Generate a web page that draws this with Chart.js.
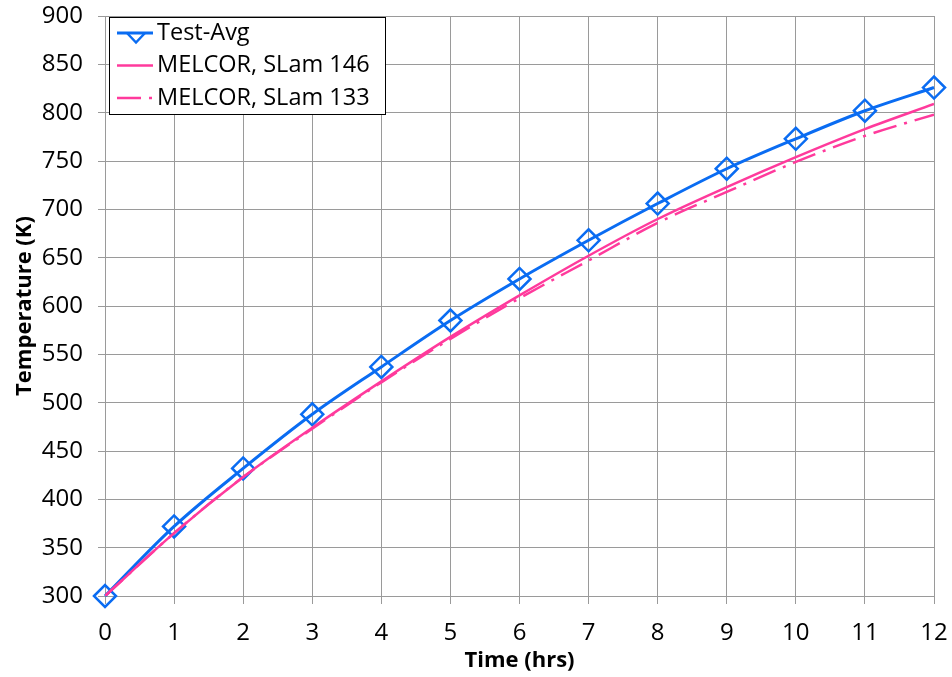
<!DOCTYPE html>
<html>
<head>
<meta charset="utf-8">
<title>Temperature vs time</title>
<script src="https://cdn.jsdelivr.net/npm/chart.js@4.4.1/dist/chart.umd.min.js"></script>
<style>
  html, body { margin: 0; padding: 0; background: #ffffff; }
  #wrap { position: relative; width: 952px; height: 677px; }
</style>
</head>
<body>
<div id="wrap"><canvas id="chart"></canvas></div>
<script>
// hourly readings, temperatures in K
const hours = [0, 1, 2, 3, 4, 5, 6, 7, 8, 9, 10, 11, 12];
const testAvg = [300, 372, 432, 488, 537, 585, 628, 668, 706, 742, 773, 802, 826];
const slam146 = [300, 365, 423, 474, 522, 568, 611, 652, 690, 723, 754, 783, 809];
const slam133 = [300, 365, 423, 473, 521, 566, 608, 647, 686, 718, 749, 776, 798];

const seriesNames = ["Test-Avg", "MELCOR, SLam 146", "MELCOR, SLam 133"];
const xTitle = "Time (hrs)";
const yTitle = "Temperature (K)";
const yMin = 300, yMax = 900, yStep = 50;
const xMin = 0, xMax = 12, xStep = 1;

const BLUE = "#0a6cf2";
const PINK = "#ff3a9c";
const GRID = "#9a9a9a";
const FONT = "'Open Sans', 'Noto Sans', sans-serif";

const toPoints = (ys) => hours.map((h, i) => ({ x: h, y: ys[i] }));

// keep tick-label overflow from pushing the plot area around
const noLabelPadding = (scale) => {
  scale.paddingTop = 0;
  scale.paddingBottom = 0;
  scale.paddingLeft = 0;
  scale.paddingRight = 0;
};

// legend box sitting inside the top-left corner of the plot
const boxLegend = {
  id: "boxLegend",
  afterDatasetsDraw(chart) {
    const ctx = chart.ctx;
    const { left, top } = chart.chartArea;
    const x0 = left + 4, y0 = top + 1, w = 276, h = 97;
    ctx.save();
    ctx.fillStyle = "#ffffff";
    ctx.fillRect(x0, y0, w, h);
    ctx.strokeStyle = "#000000";
    ctx.lineWidth = 1;
    ctx.strokeRect(Math.round(x0) + 0.5, Math.round(y0) + 0.5, w, h);

    chart.data.datasets.forEach((ds, i) => {
      const cy = y0 + 16 + i * 32.5;
      ctx.strokeStyle = ds.borderColor;
      ctx.lineWidth = ds.borderWidth;
      ctx.setLineDash(ds.borderDash || []);
      ctx.beginPath();
      ctx.moveTo(x0 + 8, cy);
      ctx.lineTo(x0 + 44, cy);
      ctx.stroke();
      ctx.setLineDash([]);
      if (ds.pointStyle === "rectRot") {
        ctx.lineWidth = ds.pointBorderWidth;
        ctx.beginPath();
        ctx.moveTo(x0 + 18, cy);
        ctx.lineTo(x0 + 27, cy + 9.5);
        ctx.lineTo(x0 + 36, cy);
        ctx.stroke();
      }
      ctx.fillStyle = "#000000";
      ctx.font = "23.5px " + FONT;
      ctx.textBaseline = "middle";
      ctx.textAlign = "left";
      ctx.fillText(ds.label, x0 + 48, cy);
    });
    ctx.restore();
  }
};

new Chart(document.getElementById("chart"), {
  type: "line",
  data: {
    datasets: [
      {
        label: seriesNames[0],
        data: toPoints(testAvg),
        borderColor: BLUE,
        borderWidth: 3,
        pointStyle: "rectRot",
        pointRadius: 11,
        pointBorderWidth: 2.5,
        pointBorderColor: BLUE,
        pointBackgroundColor: "rgba(0,0,0,0)",
        cubicInterpolationMode: "monotone",
        clip: false,
        order: 3
      },
      {
        label: seriesNames[1],
        data: toPoints(slam146),
        borderColor: PINK,
        borderWidth: 2.5,
        pointRadius: 0,
        cubicInterpolationMode: "monotone",
        order: 2
      },
      {
        label: seriesNames[2],
        data: toPoints(slam133),
        borderColor: PINK,
        borderWidth: 2.5,
        borderDash: [24, 8, 3, 8],
        pointRadius: 0,
        cubicInterpolationMode: "monotone",
        order: 1
      }
    ]
  },
  options: {
    responsive: true,
    maintainAspectRatio: false,
    animation: false,
    events: [],
    layout: { padding: { left: 0, top: 16, right: 18, bottom: 0 } },
    plugins: {
      legend: { display: false },
      tooltip: { enabled: false }
    },
    scales: {
      x: {
        type: "linear",
        min: xMin,
        max: xMax,
        afterFit: (scale) => { scale.height = 81; noLabelPadding(scale); },
        grid: { color: GRID, lineWidth: 1, tickLength: 8 },
        border: { color: GRID, width: 1 },
        ticks: {
          stepSize: xStep,
          color: "#000000",
          padding: 15,
          maxRotation: 0,
          font: { family: FONT, size: 24 }
        },
        title: {
          display: true,
          text: xTitle,
          color: "#000000",
          padding: 3,
          font: { family: FONT, size: 22, weight: "bold" }
        }
      },
      y: {
        min: yMin,
        max: yMax,
        afterFit: (scale) => { scale.width = 105; noLabelPadding(scale); },
        grid: { color: GRID, lineWidth: 1, tickLength: 7 },
        border: { color: GRID, width: 1 },
        ticks: {
          stepSize: yStep,
          color: "#000000",
          padding: 15,
          font: { family: FONT, size: 24 }
        },
        title: {
          display: true,
          text: yTitle,
          color: "#000000",
          padding: 12,
          font: { family: FONT, size: 22, weight: "bold" }
        }
      }
    }
  },
  plugins: [boxLegend]
});
</script>
</body>
</html>
